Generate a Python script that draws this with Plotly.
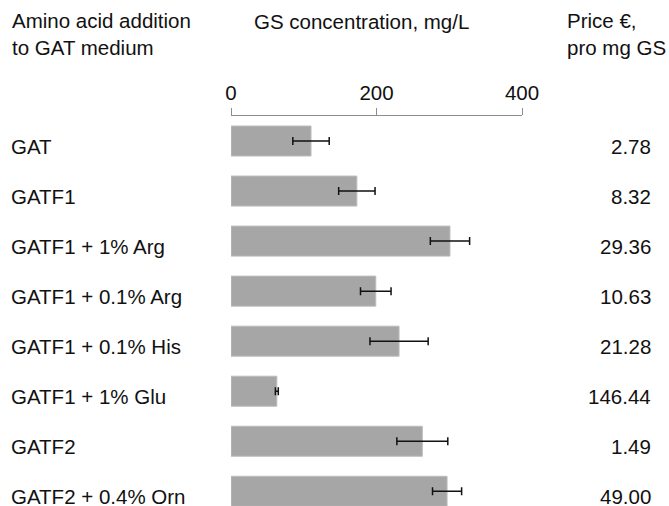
import plotly.graph_objects as go

categories = ["GAT", "GATF1", "GATF1 + 1% Arg", "GATF1 + 0.1% Arg",
              "GATF1 + 0.1% His", "GATF1 + 1% Glu", "GATF2", "GATF2 + 0.4% Orn"]
gs_conc = [110, 173, 301, 199, 231, 63, 263, 297]
gs_err = [25, 25, 27, 21, 40, 2, 35, 20]
prices = ["2.78", "8.32", "29.36", "10.63", "21.28", "146.44", "1.49", "49.00"]
tick_vals = [0, 200, 400]

W, H = 669, 506
L, R, T, B = 231, 147, 116, 0
FONT = dict(family="Liberation Sans, Arial, sans-serif", size=20.5, color="#111111")

pos = list(range(len(categories)))

fig = go.Figure()
fig.add_trace(go.Bar(
    x=gs_conc, y=pos, orientation="h", width=0.6,
    marker=dict(color="#a6a6a6", line=dict(color="#bdbdbd", width=1)),
    error_x=dict(type="data", array=gs_err, color="#111111", thickness=1.5, width=4),
    showlegend=False, hoverinfo="x",
))

pw = W - L - R
def px_to_paper(px):
    return (px - L) / pw

annotations = []
for i, (c, p) in enumerate(zip(categories, prices)):
    annotations.append(dict(x=px_to_paper(10), y=i, xref="paper", yref="y", text=c,
                            showarrow=False, xanchor="left", yanchor="middle",
                            font=FONT, yshift=-5.5, borderpad=0))
    annotations.append(dict(x=px_to_paper(652), y=i, xref="paper", yref="y", text=p,
                            showarrow=False, xanchor="right", yanchor="middle",
                            font=FONT, yshift=-5.5, borderpad=0))

def top_paper(py):
    return (H - B - py) / (H - T - B)

annotations.append(dict(x=px_to_paper(10), y=top_paper(34), xref="paper", yref="paper",
                        text="Amino acid addition<br>to GAT medium", align="left",
                        showarrow=False, xanchor="left", yanchor="middle", font=FONT))
annotations.append(dict(x=px_to_paper(361), y=top_paper(22), xref="paper", yref="paper",
                        text="GS concentration, mg/L",
                        showarrow=False, xanchor="center", yanchor="middle", font=FONT))
annotations.append(dict(x=px_to_paper(565), y=top_paper(34), xref="paper", yref="paper",
                        text="Price €,<br>pro mg GS", align="left",
                        showarrow=False, xanchor="left", yanchor="middle", font=FONT))

fig.update_layout(
    width=W, height=H,
    margin=dict(l=L, r=R, t=T, b=B, pad=0),
    paper_bgcolor="white", plot_bgcolor="white",
    font=FONT,
    annotations=annotations,
    xaxis=dict(side="top", range=[0, 400], tickvals=tick_vals, ticks="outside",
               ticklen=7, tickcolor="#8c8c8c", tickwidth=1.2, showline=True,
               linecolor="#8c8c8c", linewidth=1.2, showgrid=False, zeroline=False,
               tickfont=FONT, fixedrange=True),
    yaxis=dict(range=[7.294, -0.5], showticklabels=False, showgrid=False,
               zeroline=False, showline=False, ticks="", fixedrange=True),
)

fig.write_html("out.html", config={"displayModeBar": False},
               post_script="document.body.style.margin='0';document.body.style.overflow='hidden';")
